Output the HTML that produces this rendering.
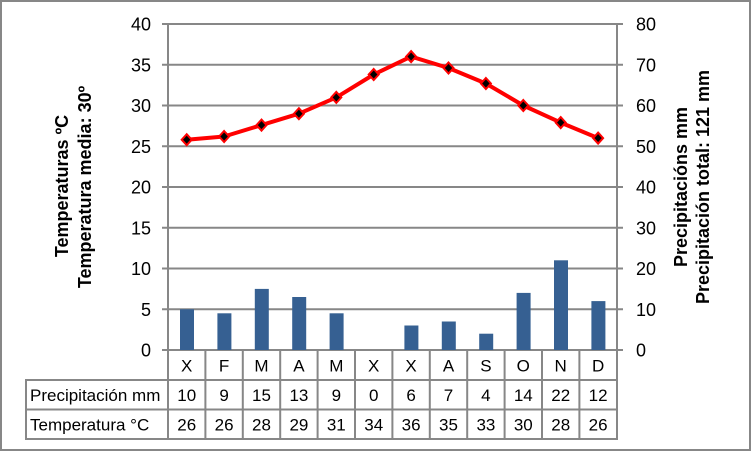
<!DOCTYPE html>
<html><head><meta charset="utf-8"><style>
html,body{margin:0;padding:0;background:#fff;}
svg{display:block;}
text{font-family:"Liberation Sans",sans-serif;fill:#000;}
</style></head><body>
<svg width="752" height="452" viewBox="0 0 752 452" xmlns="http://www.w3.org/2000/svg">
<rect x="1" y="1" width="749" height="449" fill="#fff" stroke="#878787" stroke-width="2"/>
<g stroke="#878787" stroke-width="2">
<line x1="162" y1="24" x2="623" y2="24"/>
<line x1="162" y1="64.75" x2="623" y2="64.75"/>
<line x1="162" y1="105.5" x2="623" y2="105.5"/>
<line x1="162" y1="146.25" x2="623" y2="146.25"/>
<line x1="162" y1="187" x2="623" y2="187"/>
<line x1="162" y1="227.75" x2="623" y2="227.75"/>
<line x1="162" y1="268.5" x2="623" y2="268.5"/>
<line x1="162" y1="309.25" x2="623" y2="309.25"/>
<line x1="162" y1="350" x2="623" y2="350"/>
<line x1="168" y1="24" x2="168" y2="440"/>
<line x1="617" y1="24" x2="617" y2="440"/>
</g>
<g fill="#366092">
<rect x="180" y="309.25" width="14" height="40.75"/>
<rect x="217.4" y="313.3" width="14" height="36.7"/>
<rect x="254.8" y="288.9" width="14" height="61.1"/>
<rect x="292.2" y="297" width="14" height="53"/>
<rect x="329.6" y="313.3" width="14" height="36.7"/>
<rect x="404.4" y="325.5" width="14" height="24.5"/>
<rect x="441.8" y="321.5" width="14" height="28.5"/>
<rect x="479.2" y="333.7" width="14" height="16.3"/>
<rect x="516.6" y="292.9" width="14" height="57.1"/>
<rect x="554" y="260.3" width="14" height="89.7"/>
<rect x="591.4" y="301.1" width="14" height="48.9"/>
</g>
<g stroke="#878787" stroke-width="2">
<line x1="25" y1="380" x2="618" y2="380"/>
<line x1="25" y1="409.5" x2="618" y2="409.5"/>
<line x1="25" y1="439" x2="618" y2="439"/>
<line x1="26" y1="379" x2="26" y2="440"/>
<line x1="205.4" y1="350" x2="205.4" y2="440"/>
<line x1="242.8" y1="350" x2="242.8" y2="440"/>
<line x1="280.2" y1="350" x2="280.2" y2="440"/>
<line x1="317.6" y1="350" x2="317.6" y2="440"/>
<line x1="355" y1="350" x2="355" y2="440"/>
<line x1="392.4" y1="350" x2="392.4" y2="440"/>
<line x1="429.8" y1="350" x2="429.8" y2="440"/>
<line x1="467.2" y1="350" x2="467.2" y2="440"/>
<line x1="504.6" y1="350" x2="504.6" y2="440"/>
<line x1="542" y1="350" x2="542" y2="440"/>
<line x1="579.4" y1="350" x2="579.4" y2="440"/>
</g>
<polyline fill="none" stroke="#ff0000" stroke-width="4" stroke-linejoin="round" points="186.7,139.7 224.1,136.5 261.5,125.1 298.9,113.7 336.3,97.4 373.7,74.5 411.1,56.6 448.5,68 485.9,83.5 523.3,105.5 560.7,122.6 598.1,138.1"/>
<g fill="#000" stroke="#ff0000" stroke-width="2">
<path d="M186.7,134.2 l5,5.5 l-5,5.5 l-5,-5.5z"/>
<path d="M224.1,131 l5,5.5 l-5,5.5 l-5,-5.5z"/>
<path d="M261.5,119.6 l5,5.5 l-5,5.5 l-5,-5.5z"/>
<path d="M298.9,108.2 l5,5.5 l-5,5.5 l-5,-5.5z"/>
<path d="M336.3,91.9 l5,5.5 l-5,5.5 l-5,-5.5z"/>
<path d="M373.7,69 l5,5.5 l-5,5.5 l-5,-5.5z"/>
<path d="M411.1,51.1 l5,5.5 l-5,5.5 l-5,-5.5z"/>
<path d="M448.5,62.5 l5,5.5 l-5,5.5 l-5,-5.5z"/>
<path d="M485.9,78 l5,5.5 l-5,5.5 l-5,-5.5z"/>
<path d="M523.3,100 l5,5.5 l-5,5.5 l-5,-5.5z"/>
<path d="M560.7,117.1 l5,5.5 l-5,5.5 l-5,-5.5z"/>
<path d="M598.1,132.6 l5,5.5 l-5,5.5 l-5,-5.5z"/>
</g>
<g font-size="18" text-anchor="end">
<text x="151" y="30.5">40</text>
<text x="151" y="71.25">35</text>
<text x="151" y="112">30</text>
<text x="151" y="152.75">25</text>
<text x="151" y="193.5">20</text>
<text x="151" y="234.25">15</text>
<text x="151" y="275">10</text>
<text x="151" y="315.75">5</text>
<text x="151" y="356.5">0</text>
</g>
<g font-size="18" text-anchor="start">
<text x="636" y="30.5">80</text>
<text x="636" y="71.25">70</text>
<text x="636" y="112">60</text>
<text x="636" y="152.75">50</text>
<text x="636" y="193.5">40</text>
<text x="636" y="234.25">30</text>
<text x="636" y="275">20</text>
<text x="636" y="315.75">10</text>
<text x="636" y="356.5">0</text>
</g>
<g font-size="18" font-weight="bold" text-anchor="middle">
<text transform="translate(68,186) rotate(-90)">Temperaturas ºC</text>
<text transform="translate(91,187) rotate(-90)">Temperatura media: 30º</text>
<text transform="translate(687,187) rotate(-90)">Precipitacións mm</text>
<text transform="translate(709,187) rotate(-90)">Precipitación total: 121 mm</text>
</g>
<g font-size="17" text-anchor="middle">
<text x="186.7" y="371.5">X</text>
<text x="224.1" y="371.5">F</text>
<text x="261.5" y="371.5">M</text>
<text x="298.9" y="371.5">A</text>
<text x="336.3" y="371.5">M</text>
<text x="373.7" y="371.5">X</text>
<text x="411.1" y="371.5">X</text>
<text x="448.5" y="371.5">A</text>
<text x="485.9" y="371.5">S</text>
<text x="523.3" y="371.5">O</text>
<text x="560.7" y="371.5">N</text>
<text x="598.1" y="371.5">D</text>

<text x="186.7" y="401">10</text>
<text x="224.1" y="401">9</text>
<text x="261.5" y="401">15</text>
<text x="298.9" y="401">13</text>
<text x="336.3" y="401">9</text>
<text x="373.7" y="401">0</text>
<text x="411.1" y="401">6</text>
<text x="448.5" y="401">7</text>
<text x="485.9" y="401">4</text>
<text x="523.3" y="401">14</text>
<text x="560.7" y="401">22</text>
<text x="598.1" y="401">12</text>

<text x="186.7" y="430.5">26</text>
<text x="224.1" y="430.5">26</text>
<text x="261.5" y="430.5">28</text>
<text x="298.9" y="430.5">29</text>
<text x="336.3" y="430.5">31</text>
<text x="373.7" y="430.5">34</text>
<text x="411.1" y="430.5">36</text>
<text x="448.5" y="430.5">35</text>
<text x="485.9" y="430.5">33</text>
<text x="523.3" y="430.5">30</text>
<text x="560.7" y="430.5">28</text>
<text x="598.1" y="430.5">26</text>
</g>
<g font-size="17" text-anchor="start">
<text x="30" y="401">Precipitación mm</text>
<text x="30" y="430.5">Temperatura °C</text>
</g>
</svg>
</body></html>
